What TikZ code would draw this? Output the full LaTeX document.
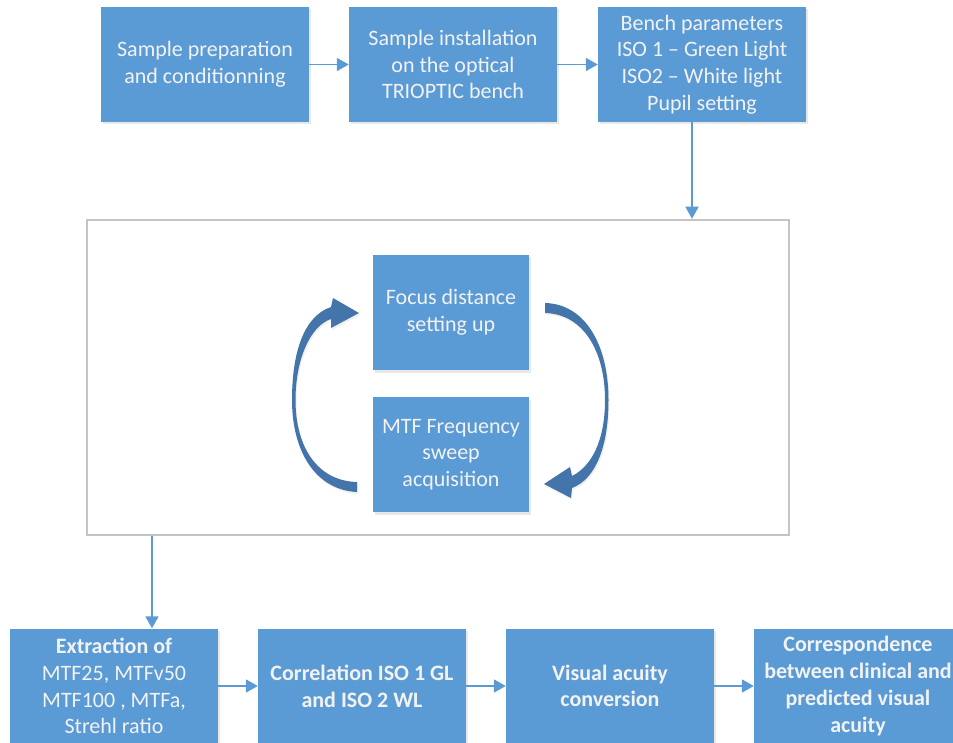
\documentclass[tikz,border=0pt]{standalone}
\usepackage{fontspec}
\setmainfont{Carlito}
\usetikzlibrary{arrows.meta,shadows}
\definecolor{boxblue}{HTML}{5B9BD5}
\definecolor{darkblue}{HTML}{4374AA}
\definecolor{framegray}{HTML}{C4C4C4}
\definecolor{txt}{HTML}{F2F2F2}
\tikzset{
  box/.style={rectangle, fill=boxblue, text=txt, minimum width=208pt, minimum height=115pt,
    inner sep=1pt, align=center, font=\fontsize{22}{26.7}\selectfont,
    drop shadow={opacity=0.18, shadow xshift=1.5pt, shadow yshift=-2.5pt}},
  smallbox/.style={box, minimum width=156pt},
  conn/.style={draw=boxblue, line width=1.8pt, -{Triangle[length=12pt,width=13pt]}},
  loop/.style={fill=darkblue, draw=none}
}
\begin{document}
\begin{tikzpicture}[x=1pt,y=-1pt]
\useasboundingbox (0,0) rectangle (953,743);
% top row
\node[box] (b1) at (205,64.5) {Sample preparation\\and conditionning};
\node[box] (b2) at (453,64.5) {Sample installation\\on the optical\\TRIOPTIC bench};
\node[box] (b3) at (702,64.5) {Bench parameters\\ISO 1 -- Green Light\\ISO2 -- White light\\Pupil setting};
% frame
\node[draw=framegray, line width=2.5pt, minimum width=702pt, minimum height=315pt, inner sep=0pt] (frame) at (438,377.5) {};
% inner boxes
\node[smallbox] (focus) at (451,312.5) {Focus distance\\setting up};
\node[smallbox] (mtf) at (451,454.5) {MTF Frequency\\sweep\\acquisition};
% bottom row
\node[box] (c1) at (114,686) {\textbf{Extraction of}\\MTF25, MTFv50\\MTF100 , MTFa,\\Strehl ratio};
\node[box] (c2) at (362,686) {\textbf{Correlation ISO 1 GL}\\\textbf{and ISO 2 WL}};
\node[box] (c3) at (610,686) {\textbf{Visual acuity}\\\textbf{conversion}};
\node[box] (c4) at (858,686) {\textbf{Correspondence}\\\textbf{between clinical and}\\\textbf{predicted visual}\\\textbf{acuity}};
% connectors
\draw[conn] (b1) -- (b2);
\draw[conn] (b2) -- (b3);
\draw[conn] (b3.south -| 692,0) -- (frame.north -| 692,0);
\draw[conn] (frame.south -| 152,0) -- (c1.north -| 152,0);
\draw[conn] (c1) -- (c2);
\draw[conn] (c2) -- (c3);
\draw[conn] (c3) -- (c4);
% curved loop arrows
\fill[loop, drop shadow={opacity=0.12, shadow xshift=1pt, shadow yshift=-2pt}]
  (357,492) .. controls (316,490) and (292,452) .. (292,400)
  .. controls (292,352) and (304,316) .. (331,307)
  -- (333,298) -- (359,313) -- (331,328) -- (331,319)
  .. controls (310,326) and (295.5,360) .. (295.5,400)
  .. controls (295.5,448) and (318,481) .. (357,482) -- cycle;
\fill[loop, drop shadow={opacity=0.12, shadow xshift=1pt, shadow yshift=-2pt}]
  (545,303) .. controls (586,304) and (608.5,346) .. (608.5,400)
  .. controls (608.5,446) and (596,479) .. (572,488)
  -- (571,498) -- (544,484) -- (570,467) -- (572,476)
  .. controls (592,466) and (605,440) .. (605,400)
  .. controls (605,352) and (584,314) .. (545,313) -- cycle;
\end{tikzpicture}
\end{document}
